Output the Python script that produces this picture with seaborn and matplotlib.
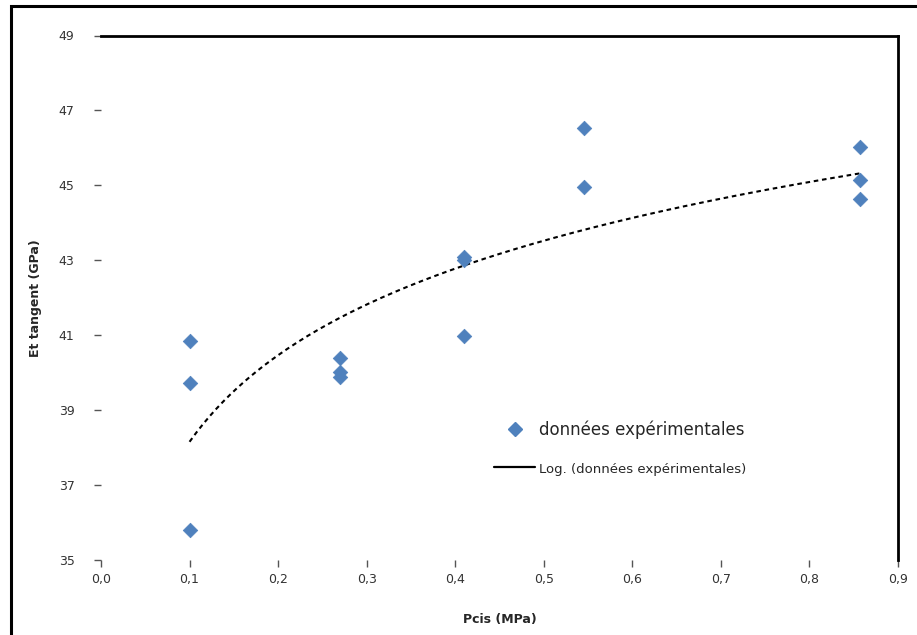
import numpy as np
import pandas as pd
import matplotlib
matplotlib.use("Agg")
import matplotlib.pyplot as plt
import seaborn as sns
from matplotlib.lines import Line2D
from matplotlib.patches import Rectangle

# Data
pressure = [0.1, 0.1, 0.1, 0.27, 0.27, 0.27, 0.41, 0.41, 0.41, 0.545, 0.545, 0.857, 0.857, 0.857]
e_tangent = [40.85, 39.73, 35.80, 40.39, 40.02, 39.88, 43.09, 43.00, 40.98, 46.53, 44.96, 46.02, 45.14, 44.64]
x_ticks = [0.0, 0.1, 0.2, 0.3, 0.4, 0.5, 0.6, 0.7, 0.8, 0.9]
x_tick_labels = ["0,0", "0,1", "0,2", "0,3", "0,4", "0,5", "0,6", "0,7", "0,8", "0,9"]
y_ticks = [35, 37, 39, 41, 43, 45, 47, 49]
series_label = "données expérimentales"
trend_label = "Log. (données expérimentales)"

df = pd.DataFrame({"P": pressure, "E": e_tangent})

sns.set_theme(style="white")
plt.rcParams['font.family'] = ['DejaVu Sans']

W, H = 917, 635
fig = plt.figure(figsize=(W / 100, H / 100), dpi=100)
ax = fig.add_axes([101 / W, 1 - 560 / H, (898 - 101) / W, (560 - 35.5) / H])

sns.scatterplot(data=df, x="P", y="E", ax=ax, marker="D", s=55, color="#4F81BD",
                edgecolor="#4F81BD", linewidth=0.5, zorder=3, legend=False)

# logarithmic trendline computed from the data
lx = np.log(np.array(pressure))
a, b = np.polyfit(lx, np.array(e_tangent), 1)
xs = np.linspace(min(pressure), max(pressure), 200)
ax.plot(xs, a * np.log(xs) + b, color="black", linewidth=1.5, linestyle=(0, (2.2, 1.8)), zorder=2)

ax.set_xlim(0.0, 0.9)
ax.set_ylim(35, 49)
ax.set_xticks(x_ticks)
ax.set_xticklabels(x_tick_labels)
ax.set_yticks(y_ticks)
ax.set_yticklabels([str(v) for v in y_ticks])

for side in ["left", "bottom"]:
    ax.spines[side].set_visible(False)
for side in ["top", "right"]:
    ax.spines[side].set_visible(True)
    ax.spines[side].set_color("black")
    ax.spines[side].set_linewidth(2)

ax.tick_params(axis="both", which="major", direction="out", length=5, width=1,
               color="#555555", labelsize=9, labelcolor="#333333",
               left=True, bottom=True)
ax.tick_params(axis="y", pad=14)
ax.tick_params(axis="x", pad=4)
ax.grid(False)

ax.set_xlabel("Pcis (MPa)", fontsize=9, fontweight="bold", labelpad=20)
ax.set_ylabel("Et tangent (GPa)", fontsize=9, fontweight="bold", labelpad=12)

handles = [
    Line2D([0], [0], marker="D", linestyle="none", color="#4F81BD", markersize=7),
    Line2D([0], [0], color="black", linewidth=1.6),
]
leg = ax.legend(handles, [series_label, trend_label], loc="upper left",
                bbox_to_anchor=((487 - 101) / (898 - 101), 1 - (414 - 35.5) / (560 - 35.5)),
                frameon=False, fontsize=12, labelspacing=1.3, handlelength=2.5,
                handletextpad=0.2, borderaxespad=0)
leg.get_texts()[1].set_fontsize(9.5)

# outer chart border
fig.patches.append(Rectangle((11 / W, -0.05), 1.2, 1 - 6 / H + 0.05, transform=fig.transFigure,
                             fill=False, edgecolor="black", linewidth=2.2))

fig.savefig("out.png", dpi=100, facecolor="white")
